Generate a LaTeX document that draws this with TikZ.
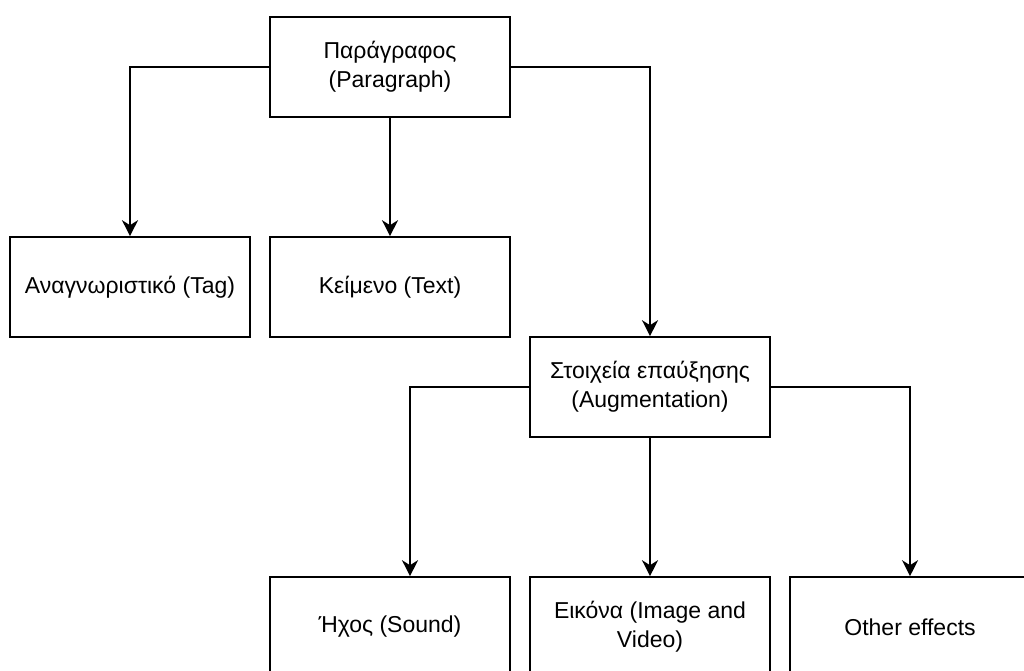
\documentclass[tikz,border=0pt]{standalone}
\usepackage{fontspec}
\setmainfont{Liberation Sans}
\usetikzlibrary{arrows.meta, positioning}

\begin{document}
\begin{tikzpicture}[
    x=1pt, y=-1pt,
    box/.style={rectangle, draw, line width=1.6pt, minimum width=240pt, minimum height=100pt, inner sep=0pt, align=center, font=\fontsize{23}{29}\selectfont},
    arrow/.style={-{Stealth[length=16pt, width=16pt, inset=5pt]}, line width=1.6pt}
]
    \useasboundingbox (0,0) rectangle (1024,671);
    \clip (0,0) rectangle (1024,671);
    % Top level
    \node[box] (para) at (390, 67) {Παράγραφος\\(Paragraph)};
    % Second level
    \node[box] (tag) at (130, 287) {Αναγνωριστικό (Tag)};
    \node[box] (text) at (390, 287) {Κείμενο (Text)};
    \node[box] (aug) at (650, 387) {Στοιχεία επαύξησης\\(Augmentation)};
    % Augmentation kinds
    \node[box] (sound) at (390, 627) {Ήχος (Sound)};
    \node[box] (image) at (650, 627) {Εικόνα (Image and\\Video)};
    \node[box] (other) at (910, 627) {Other effects};
    \coordinate (soundin) at ([xshift=20pt]sound.north);
    \draw[arrow] (para.west) -| (tag.north);
    \draw[arrow] (para) -- (text);
    \draw[arrow] (para.east) -| (aug.north);
    \draw[arrow] (aug.west) -| (soundin);
    \draw[arrow] (aug) -- (image);
    \draw[arrow] (aug.east) -| (other.north);
\end{tikzpicture}
\end{document}
